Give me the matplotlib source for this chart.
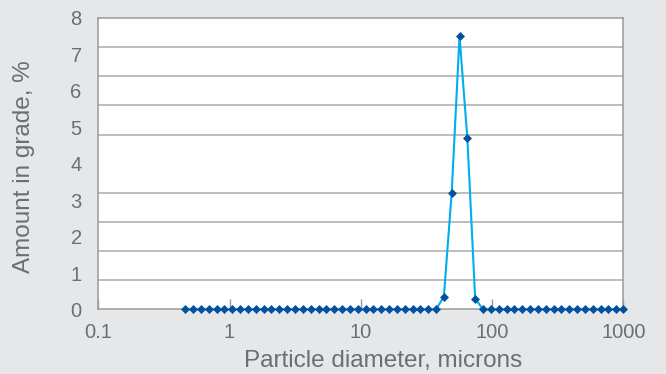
import matplotlib
matplotlib.use('Agg')
import matplotlib.pyplot as plt
from matplotlib.ticker import FixedLocator, MultipleLocator, NullFormatter

# particle size classes (microns)
diameter = [0.460, 0.528, 0.606, 0.695, 0.797, 0.915, 1.050, 1.204, 1.382, 1.586,
            1.819, 2.087, 2.394, 2.748, 3.152, 3.617, 4.149, 4.761, 5.462, 6.266,
            7.190, 8.249, 9.465, 10.86, 12.46, 14.30, 16.40, 18.82, 21.59, 24.77,
            28.42, 32.61, 37.41, 42.93, 49.25, 56.51, 64.84, 74.38, 85.34, 97.9,
            112.3, 128.9, 147.9, 169.7, 194.7, 223.4, 256.3, 294.0, 337.4, 387.0,
            444.1, 509.5, 584.6, 670.7, 769.5, 883.0, 1000.0]
# amount in grade (%)
amount = [0] * 33 + [0.35, 3.2, 7.5, 4.7, 0.3] + [0] * 19

x_ticks = [0.1, 1, 10, 100, 1000]
x_labels = ['0.1', '1', '10', '100', '1000']
y_ticks = [0, 1, 2, 3, 4, 5, 6, 7, 8]

bg = '#e6e7e8'
txt = '#6d6e71'
frame = '#9a9b9e'

plt.rcParams['font.family'] = ['Liberation Sans', 'DejaVu Sans']

fig = plt.figure(figsize=(6.66, 3.74), dpi=100)
fig.patch.set_facecolor(bg)
ax = fig.add_axes([0.1476, 0.1725, 0.7883, 0.7794])
ax.set_facecolor('white')

ax.plot(diameter, amount, color='#00aeef', linewidth=1.5, zorder=3,
        marker='D', markersize=4.2, markerfacecolor='#00519e',
        markeredgecolor='#00519e', markeredgewidth=0.5, clip_on=False)

ax.set_xscale('log')
ax.set_xlim(0.1, 1000)
ax.set_ylim(0, 8)

ax.xaxis.set_major_locator(FixedLocator(x_ticks))
ax.set_xticklabels(x_labels)
ax.xaxis.set_minor_locator(FixedLocator([]))
ax.xaxis.set_minor_formatter(NullFormatter())
ax.set_yticks(y_ticks)
ax.yaxis.set_minor_locator(MultipleLocator(0.8))

ax.tick_params(axis='x', which='major', direction='in', length=7, width=1.0,
               color=frame, labelsize=14.5, labelcolor=txt, pad=10)
ax.tick_params(axis='y', which='major', length=0, labelsize=14.5,
               labelcolor=txt, pad=12)
ax.tick_params(axis='y', which='minor', length=0)

ax.grid(False)
ax.grid(True, axis='y', which='minor', color='#a7a9ac', linewidth=1.1)

for s in ax.spines.values():
    s.set_color(frame)
    s.set_linewidth(1.1)

fig.text(0.576, 0.019, 'Particle diameter, microns', ha='center', va='baseline',
         fontsize=17.5, color=txt)
fig.text(0.036, 0.555, 'Amount in grade, %', ha='center', va='center',
         rotation=90, fontsize=17.5, color=txt)

fig.savefig('out.png', dpi=100, facecolor=bg)
